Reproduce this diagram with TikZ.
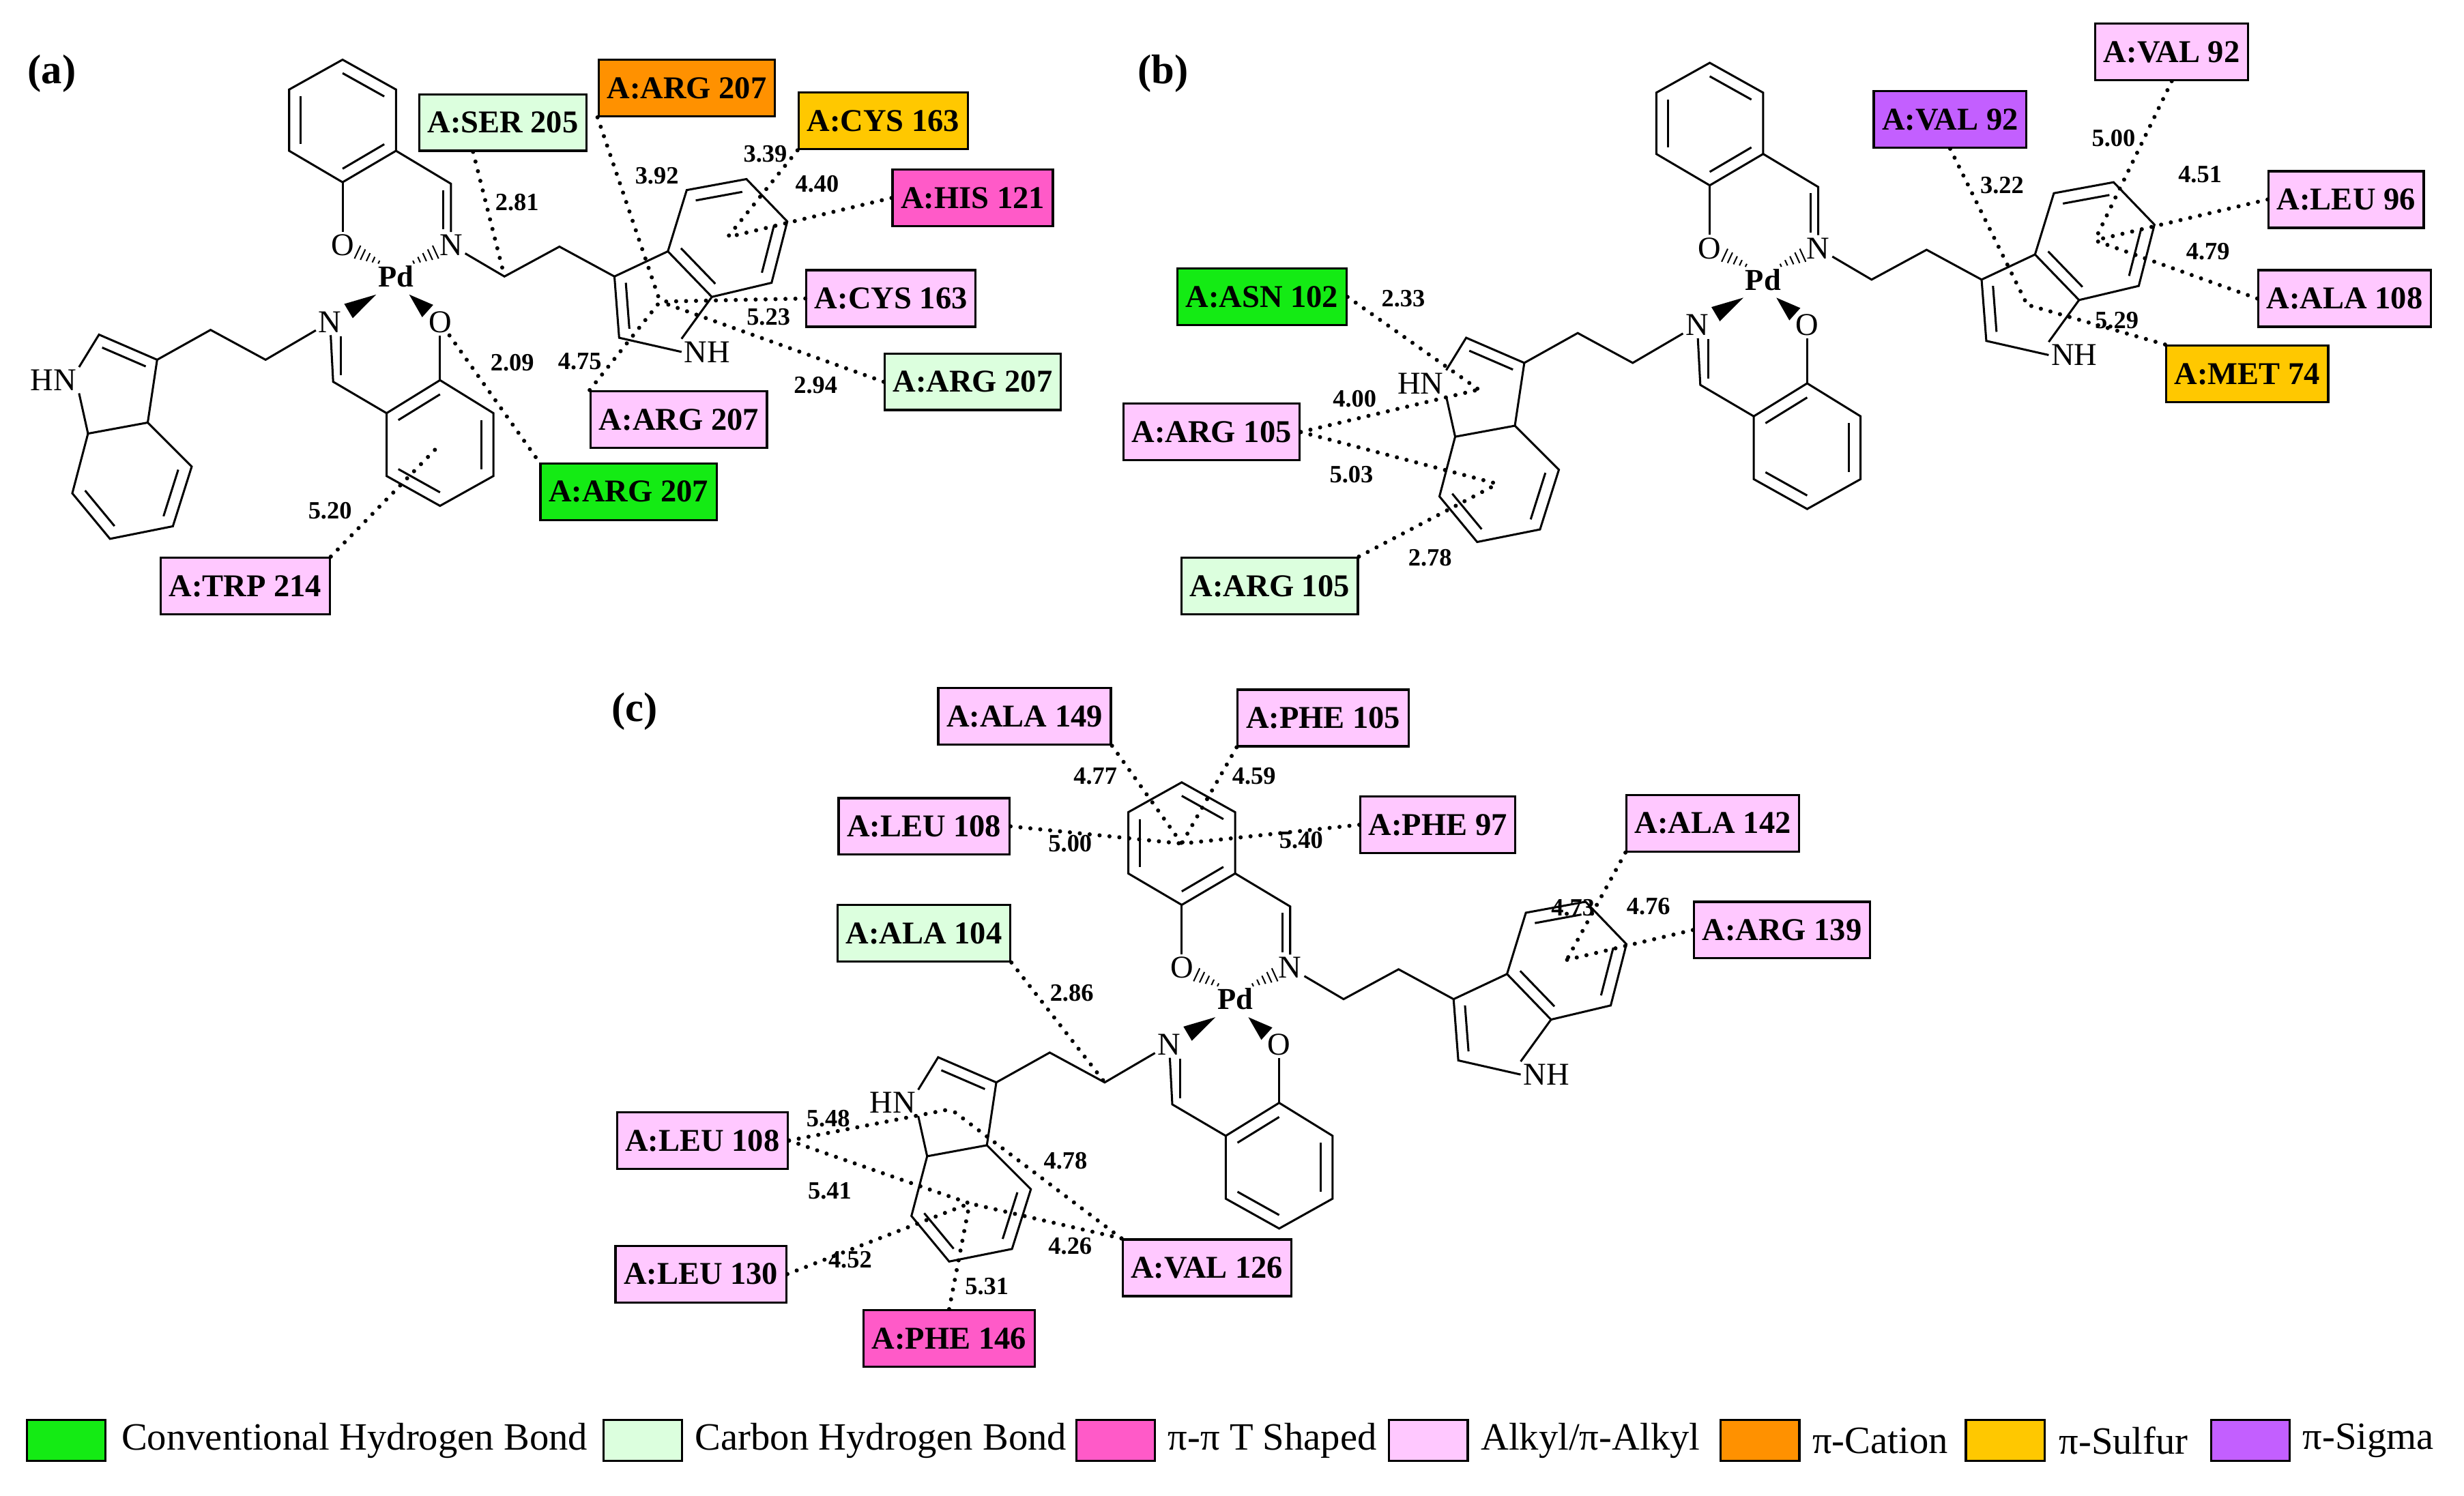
\documentclass[tikz,border=0pt]{standalone}
\usepackage{fontspec}
\setmainfont{Liberation Serif}
\usetikzlibrary{calc}
\definecolor{conv}{RGB}{20,235,20}
\definecolor{chb}{RGB}{220,255,222}
\definecolor{tsh}{RGB}{255,90,200}
\definecolor{alk}{RGB}{255,200,255}
\definecolor{cat}{RGB}{255,145,0}
\definecolor{sul}{RGB}{255,200,0}
\definecolor{sig}{RGB}{195,95,255}
\newcommand{\inb}[3]{\draw ($(#1)!0.22!(#3)$) -- ($(#2)!0.22!(#3)$);}
\newcommand{\hashbd}[2]{%
  \foreach \s/\w in {0.32/0.6,0.42/1.1,0.52/1.6,0.62/2.1,0.72/2.6}{
    \path ($(#1)!\s!(#2)$) coordinate (-hh);
    \draw[line width=0.5pt] ($(-hh)!\w pt!90:(#2)$) -- ($(-hh)!\w pt!-90:(#2)$);}}
\newcommand{\wedgebd}[2]{%
  \path ($(#1)!0.72!(#2)$) coordinate (-ww);
  \fill ($(#1)!0.3!(#2)$) -- ($(-ww)!3pt!90:(#1)$) -- ($(-ww)!3pt!-90:(#1)$) -- cycle;}
\tikzset{
  x=0.02cm, y=-0.02cm,
  atom/.style={font=\fontsize{11.5}{12}\selectfont, inner sep=0.6pt},
  box/.style={draw, line width=0.8pt, font=\bfseries\fontsize{11.5}{13}\selectfont, inner xsep=3pt, minimum height=0.72cm},
  dist/.style={font=\bfseries\fontsize{9}{10}\selectfont, inner sep=0pt},
  ix/.style={line width=1.5pt, dash pattern=on 0pt off 3.6pt, line cap=round},
  panel/.style={font=\bfseries\fontsize{15}{17}\selectfont},
  leg/.style={font=\fontsize{14}{16}\selectfont, anchor=west, inner sep=0pt},
  sw/.style={draw, line width=0.8pt, minimum width=1cm, minimum height=0.52cm, inner sep=0pt},
  mol/.pic={
    \begin{scope}[line width=0.75pt]
    \coordinate (-t1) at (-34,-138); \coordinate (-t2) at (0,-119);
    \coordinate (-t3) at (0,-80); \coordinate (-t4) at (-34,-60);
    \coordinate (-t5) at (-68,-80); \coordinate (-t6) at (-68,-119);
    \coordinate (-tc) at (-34,-99);
    \draw (-t1)--(-t2)--(-t3)--(-t4)--(-t5)--(-t6)--cycle;
    \inb{-t1}{-t2}{-tc}\inb{-t3}{-t4}{-tc}\inb{-t5}{-t6}{-tc}
    \node[atom,font=\bfseries\fontsize{11}{12}\selectfont] (-pd) at (0,0) {Pd};
    \node[atom] (-o1) at (-34,-20) {O};
    \node[atom] (-n1) at (35,-20) {N};
    \node[atom] (-n2) at (-42,29) {N};
    \node[atom] (-o2) at (28,29) {O};
    \draw (-t4) -- (-o1);
    \coordinate (-c1) at (35,-59);
    \draw (-t3) -- (-c1) -- (-n1);
    \draw (30,-55) -- (30,-30);
    \hashbd{0,-4}{-34,-20}
    \hashbd{0,-4}{35,-20}
    \wedgebd{0,4}{-42,29}
    \wedgebd{0,4}{28,29}
    \coordinate (-ch2a) at (69,0); \coordinate (-ch2b) at (104,-19);
    \coordinate (-r3) at (139,0); \coordinate (-r3a) at (173,-16);
    \coordinate (-r4) at (185,-55); \coordinate (-r5) at (223,-62);
    \coordinate (-r6) at (249,-35); \coordinate (-r7) at (239,4);
    \coordinate (-r7a) at (201,13); \coordinate (-r2) at (142,39);
    \coordinate (-bc) at (211,-25); \coordinate (-fc) at (168,16);
    \node[atom] (-nh) at (198,48) {NH};
    \draw (-n1) -- (-ch2a) -- (-ch2b) -- (-r3) -- (-r3a) -- (-r4) -- (-r5) -- (-r6) -- (-r7) -- (-r7a) -- (-r3a);
    \draw (-r3) -- (-r2) -- (-nh.west);
    \draw (-nh.north west) -- (-r7a);
    \inb{-r4}{-r5}{-bc}\inb{-r6}{-r7}{-bc}\inb{-r7a}{-r3a}{-bc}
    \draw ($(-r3)!0.25!(-fc)$) -- ($(-r2)!0.25!(-fc)$);
    \coordinate (-c2) at (-40,67);
    \coordinate (-l1) at (-6,87); \coordinate (-l2) at (28,66);
    \coordinate (-l3) at (62,87); \coordinate (-l4) at (62,127);
    \coordinate (-l5) at (28,146); \coordinate (-l6) at (-6,127);
    \coordinate (-lr) at (28,107);
    \draw (-n2) -- (-c2) -- (-l1);
    \draw (-35,38) -- (-35,63);
    \draw (-l1)--(-l2)--(-l3)--(-l4)--(-l5)--(-l6)--cycle;
    \inb{-l1}{-l2}{-lr}\inb{-l3}{-l4}{-lr}\inb{-l5}{-l6}{-lr}
    \draw (-o2) -- (-l2);
    \coordinate (-ch2) at (-83,53); \coordinate (-ch2c) at (-118,34);
    \coordinate (-s3) at (-152,53); \coordinate (-s2) at (-189,37);
    \coordinate (-s7a) at (-196,100); \coordinate (-s3a) at (-158,93);
    \coordinate (-s4) at (-130,121); \coordinate (-s5) at (-142,159);
    \coordinate (-s6) at (-182,167); \coordinate (-s7) at (-206,138);
    \coordinate (-lf) at (-181,70); \coordinate (-lb) at (-169,130);
    \node[atom] (-hn) at (-218,66) {HN};
    \draw (-n2) -- (-ch2) -- (-ch2c) -- (-s3) -- (-s2) -- (-hn.north east);
    \draw (-hn.south east) -- (-s7a) -- (-s3a) -- (-s3);
    \draw (-s3a) -- (-s4) -- (-s5) -- (-s6) -- (-s7) -- (-s7a);
    \draw ($(-s3)!0.25!(-lf)$) -- ($(-s2)!0.25!(-lf)$);
    \inb{-s4}{-s5}{-lb}\inb{-s6}{-s7}{-lb}
    \end{scope}
  }
}
\begin{document}
\begin{tikzpicture}
\useasboundingbox (0,0) rectangle (1568,952);
\fill[white] (0,0) rectangle (1568,952);
\pic (A) at (252,176) {mol};
\pic (B) at (1122,178) {mol};
\pic (C) at (786,636) {mol};
\node[panel] (pa) at (33,47) {(a)};
\node[panel] (pb) at (740,47) {(b)};
\node[panel] (pc) at (404,453) {(c)};
% panel a
\node[box,fill=chb] (a1) at (320,78) {A:SER 205};
\node[box,fill=cat] (a2) at (437,56) {A:ARG 207};
\node[box,fill=sul] (a3) at (562,77) {A:CYS 163};
\node[box,fill=tsh] (a4) at (619,126) {A:HIS 121};
\node[box,fill=alk] (a5) at (567,190) {A:CYS 163};
\node[box,fill=chb] (a6) at (619,243) {A:ARG 207};
\node[box,fill=alk] (a7) at (432,267) {A:ARG 207};
\node[box,fill=conv] (a8) at (400,313) {A:ARG 207};
\node[box,fill=alk] (a9) at (156,373) {A:TRP 214};
\draw[ix] (a1.south west) ++(35,0) -- (A-ch2a);
\draw[ix] (a2.south west) -- (A-fc);
\draw[ix] (a3.south west) -- (A-bc);
\draw[ix] (a4.west) -- (A-bc);
\draw[ix] (a5.west) -- (A-fc);
\draw[ix] (a6.west) -- (A-fc);
\draw[ix] (a7.north west) -- (A-fc);
\draw[ix] (A-o2) -- (a8.north west);
\draw[ix] (a9.north east) -- (A-lr);
\node[dist] at (329,129) {2.81};
\node[dist] at (418,112) {3.92};
\node[dist] at (487,98) {3.39};
\node[dist] at (520,117) {4.40};
\node[dist] at (489,202) {5.23};
\node[dist] at (519,245) {2.94};
\node[dist] at (369,230) {4.75};
\node[dist] at (326,231) {2.09};
\node[dist] at (210,325) {5.20};
% panel b
\node[box,fill=alk] (b1) at (1382,33) {A:VAL 92};
\node[box,fill=sig] (b2) at (1241,76) {A:VAL 92};
\node[box,fill=alk] (b3) at (1493,127) {A:LEU 96};
\node[box,fill=alk] (b4) at (1492,190) {A:ALA 108};
\node[box,fill=sul] (b5) at (1430,238) {A:MET 74};
\node[box,fill=conv] (b6) at (803,189) {A:ASN 102};
\node[box,fill=alk] (b7) at (771,275) {A:ARG 105};
\node[box,fill=chb] (b8) at (808,373) {A:ARG 105};
\draw[ix] (b1.south) -- (B-bc);
\draw[ix] (b2.south) -- (B-fc);
\draw[ix] (b3.west) -- (B-bc);
\draw[ix] (b4.west) -- (B-bc);
\draw[ix] (b5.north west) -- (B-fc);
\draw[ix] (b6.east) -- (B-lf);
\draw[ix] (b7.east) -- (B-lf);
\draw[ix] (b7.east) -- (B-lb);
\draw[ix] (b8.north east) -- (B-lb);
\node[dist] at (1345,88) {5.00};
\node[dist] at (1274,118) {3.22};
\node[dist] at (1400,111) {4.51};
\node[dist] at (1405,160) {4.79};
\node[dist] at (1347,204) {5.29};
\node[dist] at (893,190) {2.33};
\node[dist] at (862,254) {4.00};
\node[dist] at (860,302) {5.03};
\node[dist] at (910,355) {2.78};
% panel c
\node[box,fill=alk] (c1) at (652,456) {A:ALA 149};
\node[box,fill=alk] (c2) at (842,457) {A:PHE 105};
\node[box,fill=alk] (c3) at (588,526) {A:LEU 108};
\node[box,fill=alk] (c4) at (915,525) {A:PHE 97};
\node[box,fill=alk] (c5) at (1090,524) {A:ALA 142};
\node[box,fill=alk] (c6) at (1134,592) {A:ARG 139};
\node[box,fill=chb] (c7) at (588,594) {A:ALA 104};
\node[box,fill=alk] (c8) at (447,726) {A:LEU 108};
\node[box,fill=alk] (c9) at (768,807) {A:VAL 126};
\node[box,fill=alk] (c10) at (446,811) {A:LEU 130};
\node[box,fill=tsh] (c11) at (604,852) {A:PHE 146};
\draw[ix] (c1.south east) -- (C-tc);
\draw[ix] (c2.south west) -- (C-tc);
\draw[ix] (c3.east) -- (C-tc);
\draw[ix] (c4.west) -- (C-tc);
\draw[ix] (c5.south west) -- (C-bc);
\draw[ix] (c6.west) -- (C-bc);
\draw[ix] (c7.south east) -- (C-ch2);
\draw[ix] (c8.east) -- (C-lf);
\draw[ix] (c8.east) -- (C-lb);
\draw[ix] (c9.north west) -- (C-lf);
\draw[ix] (c9.north west) -- (C-lb);
\draw[ix] (c10.east) -- (C-lb);
\draw[ix] (c11.north) -- (C-lb);
\node[dist] at (697,494) {4.77};
\node[dist] at (798,494) {4.59};
\node[dist] at (681,537) {5.00};
\node[dist] at (828,535) {5.40};
\node[dist] at (1001,578) {4.73};
\node[dist] at (1049,577) {4.76};
\node[dist] at (682,632) {2.86};
\node[dist] at (527,712) {5.48};
\node[dist] at (528,758) {5.41};
\node[dist] at (678,739) {4.78};
\node[dist] at (541,802) {4.52};
\node[dist] at (681,793) {4.26};
\node[dist] at (628,819) {5.31};
% legend
\node[sw,fill=conv] (g1) at (42,917) {};
\node[leg] (t1) at (77,917) {Conventional Hydrogen Bond};
\node[sw,fill=chb] (g2) at (409,917) {};
\node[leg] (t2) at (442,917) {Carbon Hydrogen Bond};
\node[sw,fill=tsh] (g3) at (710,917) {};
\node[leg] (t3) at (743,917) {π-π T Shaped};
\node[sw,fill=alk] (g4) at (909,917) {};
\node[leg] (t4) at (942,917) {Alkyl/π-Alkyl};
\node[sw,fill=cat] (g5) at (1120,917) {};
\node[leg] (t5) at (1153,917) {π-Cation};
\node[sw,fill=sul] (g6) at (1276,917) {};
\node[leg] (t6) at (1310,917) {π-Sulfur};
\node[sw,fill=sig] (g7) at (1432,917) {};
\node[leg] (t7) at (1465,917) {π-Sigma};
\end{tikzpicture}
\end{document}
